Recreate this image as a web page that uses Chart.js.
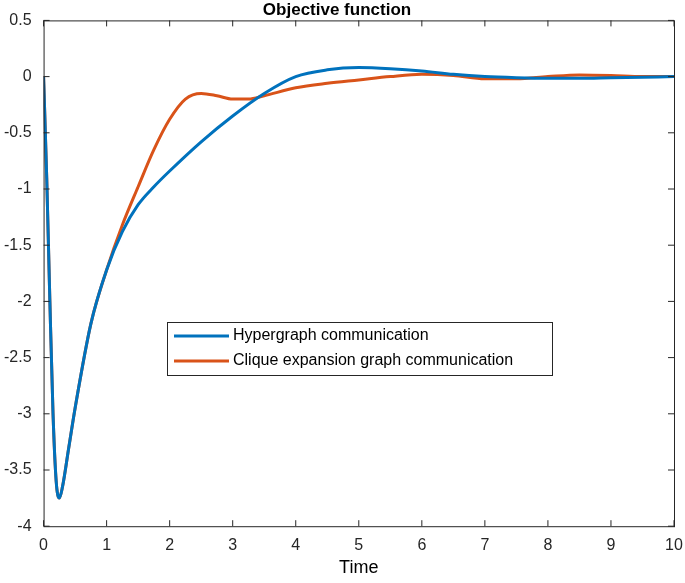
<!DOCTYPE html><html><head><style>html,body{margin:0;padding:0;background:#fff}#w{width:685px;height:583px}</style>
<script src="https://cdn.jsdelivr.net/npm/chart.js@4/dist/chart.umd.min.js"></script></head><body><div id="w"><canvas id="c"></canvas></div><script>
const timeH=[0,0.05,0.1,0.15,0.2,0.25,0.3,0.4,0.5,0.75,1,1.25,1.5,1.75,2,2.5,3,3.5,4,4.5,5,5.5,6,6.5,7,7.5,8,8.5,9,9.5,10];
const hyper=[0,-0.9,-2.0,-3.0,-3.6,-3.75,-3.65,-3.3,-2.95,-2.2,-1.72,-1.38,-1.14,-0.98,-0.84,-0.58,-0.35,-0.15,0.0,0.06,0.08,0.07,0.05,0.02,0.0,-0.01,-0.015,-0.015,-0.01,-0.005,0];
const timeC=[0,0.05,0.1,0.15,0.2,0.25,0.3,0.4,0.5,0.75,1,1.25,1.5,1.75,2,2.25,2.5,2.75,3,3.25,3.5,4,4.5,5,5.5,6,6.5,7,7.5,8,8.5,9,9.5,10];
const clique=[0,-0.9,-2.0,-3.0,-3.6,-3.75,-3.65,-3.3,-2.95,-2.2,-1.72,-1.32,-0.98,-0.65,-0.38,-0.2,-0.15,-0.17,-0.2,-0.2,-0.17,-0.1,-0.06,-0.03,0.0,0.02,0.01,-0.02,-0.02,0.0,0.015,0.01,0.0,0];
const labels=['Hypergraph communication','Clique expansion graph communication'];
const colors=['#0072BD','#D95319'];
const F='"Liberation Sans", Arial, sans-serif';
const box={id:'box',afterDraw(ch){const a=ch.chartArea,x=ch.ctx;x.save();x.strokeStyle='#262626';x.lineWidth=1;x.strokeRect(a.left+0.5,a.top+0.5,a.right-a.left,a.bottom-a.top);
x.beginPath();ch.scales.x.ticks.forEach(t=>{const p=ch.scales.x.getPixelForValue(t.value);x.moveTo(p,a.top);x.lineTo(p,a.top+6);x.moveTo(p,a.bottom);x.lineTo(p,a.bottom-6);});
ch.scales.y.ticks.forEach(t=>{const p=ch.scales.y.getPixelForValue(t.value);x.moveTo(a.right,p);x.lineTo(a.right-6,p);x.moveTo(a.left,p);x.lineTo(a.left+6,p);});x.stroke();
const lx=167,ly=322,lw=385,lh=53;x.fillStyle='#fff';x.fillRect(lx,ly,lw,lh);x.strokeRect(lx+0.5,ly+0.5,lw,lh);
x.font='16px '+F;x.textBaseline='middle';labels.forEach((l,i)=>{const yy=ly+14+i*25;x.strokeStyle=colors[i];x.lineWidth=3;x.beginPath();x.moveTo(lx+7,yy);x.lineTo(lx+62,yy);x.stroke();x.fillStyle='#000';x.fillText(l,lx+66,yy);});x.restore();}};
new Chart(document.getElementById('c'),{type:'line',data:{datasets:[
{label:labels[0],data:timeH.map((t,i)=>({x:t,y:hyper[i]})),borderColor:colors[0],borderWidth:3,pointRadius:0,cubicInterpolationMode:'monotone'},
{label:labels[1],data:timeC.map((t,i)=>({x:t,y:clique[i]})),borderColor:colors[1],borderWidth:3,pointRadius:0,cubicInterpolationMode:'monotone'}]},
options:{responsive:true,maintainAspectRatio:false,animation:false,layout:{padding:{left:0,right:11,top:0,bottom:0}},
plugins:{legend:{display:false},title:{display:true,text:'Objective function',color:'#000',font:{family:F,size:17,weight:'bold'},padding:{top:0,bottom:0}}},
scales:{x:{type:'linear',min:0,max:10,grid:{display:false},border:{display:false},ticks:{stepSize:1,color:'#262626',font:{family:F,size:16},padding:2},title:{display:true,text:'Time',color:'#000',font:{family:F,size:18},padding:{top:0}}},
y:{min:-4,max:0.5,grid:{display:false},border:{display:false},ticks:{stepSize:0.5,color:'#262626',font:{family:F,size:16},padding:4,callback:v=>String(Math.round(v*10)/10)}}}},plugins:[box]});
</script></body></html>
